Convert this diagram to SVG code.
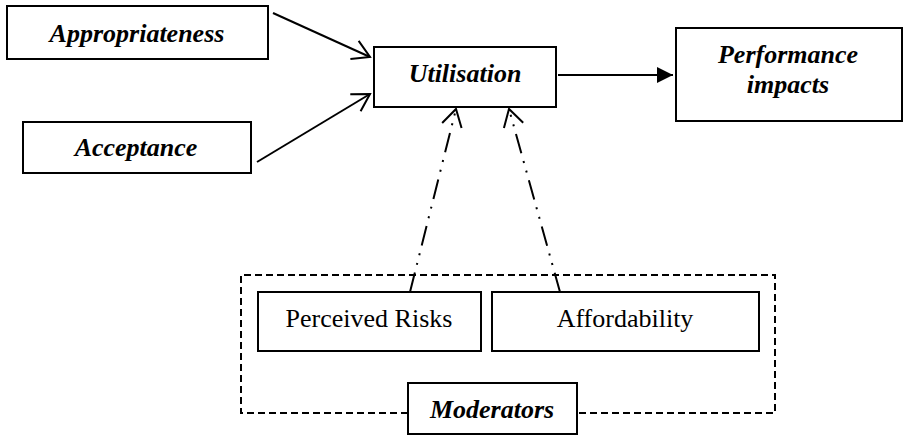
<svg xmlns="http://www.w3.org/2000/svg" width="903" height="435" viewBox="0 0 903 435">
  <style>
    .box { fill: #ffffff; stroke: #000000; stroke-width: 2; }
    .lbl { font-family: "Liberation Serif", "Times New Roman", serif; font-size: 26px; fill: #000000; text-anchor: middle; }
    .bi { font-weight: bold; font-style: italic; }
    .conn { fill: none; stroke: #000000; stroke-width: 2; }
    .dashdot { stroke-dasharray: 20 8 2 8 2 8; }
    .group-dash { fill: none; stroke: #000000; stroke-width: 2; stroke-dasharray: 7 4; }
  </style>
  <defs>
    <marker id="openArrow" viewBox="-20 -12 22 24" refX="0" refY="0" markerWidth="22" markerHeight="24" markerUnits="userSpaceOnUse" orient="auto" overflow="visible">
      <path d="M -17 -10 L 0 0 L -17 10" fill="none" stroke="#000000" stroke-width="2" stroke-dasharray="none"/>
    </marker>
    <marker id="solidArrow" viewBox="0 0 16 16" refX="16" refY="8" markerWidth="16" markerHeight="16" markerUnits="userSpaceOnUse" orient="auto">
      <path d="M 0 0 L 16 8 L 0 16 z" fill="#000000"/>
    </marker>
  </defs>

  <g id="moderators-group">
    <path class="group-dash" d="M 408 413 L 241 413 L 241 275 L 775 275 L 775 413 L 577 413"/>
  </g>

  <g id="connectors">
    <line class="conn" x1="273" y1="13" x2="370" y2="57" marker-end="url(#openArrow)"/>
    <line class="conn" x1="257" y1="162" x2="370" y2="94" marker-end="url(#openArrow)"/>
    <line class="conn" x1="558" y1="75" x2="673" y2="75" marker-end="url(#solidArrow)"/>
    <path class="conn dashdot" d="M 410 292 L 456 109" marker-end="url(#openArrow)"/>
    <path class="conn dashdot" d="M 560 292 L 509 109" marker-end="url(#openArrow)"/>
  </g>

  <g id="appropriateness">
    <rect class="box" x="7" y="6" width="261" height="53"/>
    <text class="lbl bi" x="137" y="42">Appropriateness</text>
  </g>

  <g id="acceptance">
    <rect class="box" x="23" y="122" width="228" height="51"/>
    <text class="lbl bi" x="136" y="156">Acceptance</text>
  </g>

  <g id="utilisation">
    <rect class="box" x="374" y="47" width="182" height="60"/>
    <text class="lbl bi" x="465" y="82">Utilisation</text>
  </g>

  <g id="performance-impacts">
    <rect class="box" x="676" y="28" width="226" height="93" stroke-width="2.5"/>
    <text class="lbl bi" x="788" y="63">Performance</text>
    <text class="lbl bi" x="788" y="93">impacts</text>
  </g>

  <g id="perceived-risks">
    <rect class="box" x="258" y="292" width="223" height="59"/>
    <text class="lbl" x="369" y="327">Perceived Risks</text>
  </g>

  <g id="affordability">
    <rect class="box" x="492" y="292" width="267" height="59"/>
    <text class="lbl" x="625" y="327">Affordability</text>
  </g>

  <g id="moderators">
    <rect class="box" x="408" y="383" width="169" height="51"/>
    <text class="lbl bi" x="492" y="418">Moderators</text>
  </g>
</svg>
